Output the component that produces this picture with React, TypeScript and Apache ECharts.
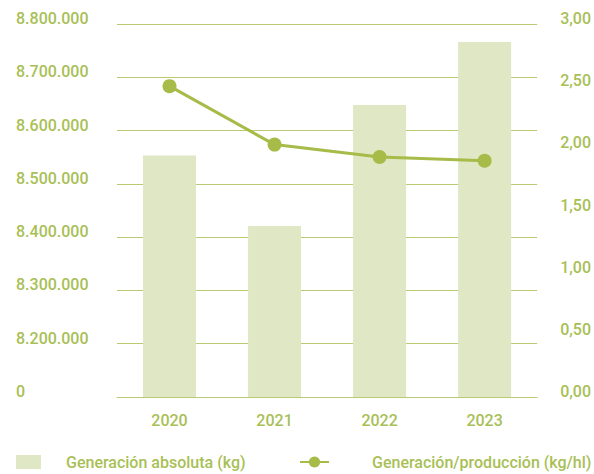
import React, { useEffect, useRef } from "react";
import * as echarts from "echarts";

const categories = ["2020", "2021", "2022", "2023"];
const absoluteKg = [8553000, 8421000, 8648000, 8766000];
const ratioKgHl = [2.5, 2.03, 1.93, 1.9];
const leftTicks = [0, 8200000, 8300000, 8400000, 8500000, 8600000, 8700000, 8800000];
const rightTicks = [0, 0.5, 1, 1.5, 2, 2.5, 3];
const seriesNames = ["Generación absoluta (kg)", "Generación/producción (kg/hl)"];

const AXIS_BREAK_BASE = 8100000; // the left axis jumps from 0 to 8.200.000
const TEXT = "#a8bf56";
const LINE = "#a6bb48";
const BAR = "#e0e7c4";
const GRID = "#b9cb72";

function fmtThousands(v: number): string {
  return Math.round(v)
    .toString()
    .replace(/\B(?=(\d{3})+(?!\d))/g, ".");
}

export default function App() {
  const ref = useRef<HTMLDivElement>(null);
  useEffect(() => {
    if (!ref.current) return;
    const chart = echarts.init(ref.current, undefined, { renderer: "svg" });
    const font = { fontFamily: "Roboto", fontWeight: 500 as any, fontSize: 16, color: TEXT };
    const leftMax = leftTicks[leftTicks.length - 1] - AXIS_BREAK_BASE;
    chart.setOption({
      animation: false,
      grid: { left: 117, right: 54, top: 24, bottom: 77 },
      legend: [
        {
          data: [{ name: seriesNames[0], icon: "rect" }],
          left: 16,
          top: 454,
          padding: 0,
          itemWidth: 25,
          itemHeight: 14,
          textStyle: { ...font, padding: [0, 0, 0, 20] },
        },
        {
          data: [{ name: seriesNames[1] }],
          left: 299,
          top: 454,
          padding: 0,
          itemWidth: 29,
          itemHeight: 14,
          textStyle: { ...font, padding: [0, 0, 0, 38] },
        },
      ],
      xAxis: {
        type: "category",
        data: categories,
        axisLine: { show: true, lineStyle: { color: GRID, width: 1 } },
        axisTick: { show: false },
        axisLabel: { ...font, margin: 15 },
      },
      yAxis: [
        {
          type: "value",
          min: 0,
          max: leftMax,
          interval: 100000,
          position: "left",
          axisLine: { show: false },
          axisTick: { show: false },
          splitLine: { show: true, lineStyle: { color: GRID, width: 1 } },
          axisLabel: {
            ...font,
            align: "left",
            margin: 101,
            verticalAlign: "bottom",
            lineHeight: 11,
            formatter: (v: number) => (v === 0 ? "0" : fmtThousands(v + AXIS_BREAK_BASE)),
          },
        },
        {
          type: "value",
          min: rightTicks[0],
          max: rightTicks[rightTicks.length - 1],
          interval: 0.5,
          position: "right",
          axisLine: { show: false },
          axisTick: { show: false },
          splitLine: { show: false },
          axisLabel: {
            ...font,
            align: "left",
            margin: 23,
            verticalAlign: "bottom",
            lineHeight: 11,
            formatter: (v: number) => v.toFixed(2).replace(".", ","),
          },
        },
      ],
      series: [
        {
          name: seriesNames[0],
          type: "bar",
          yAxisIndex: 0,
          barWidth: 53,
          itemStyle: { color: BAR },
          data: absoluteKg.map((v) => v - AXIS_BREAK_BASE),
          z: 1,
        },
        {
          name: seriesNames[1],
          type: "line",
          yAxisIndex: 1,
          data: ratioKgHl,
          symbol: "circle",
          symbolSize: 14,
          lineStyle: { color: LINE, width: 3 },
          itemStyle: { color: LINE },
          z: 3,
        },
      ],
    });
    return () => chart.dispose();
  }, []);
  return <div ref={ref} style={{ width: 594, height: 474, position: "absolute", left: 0, top: 0 }} />;
}
